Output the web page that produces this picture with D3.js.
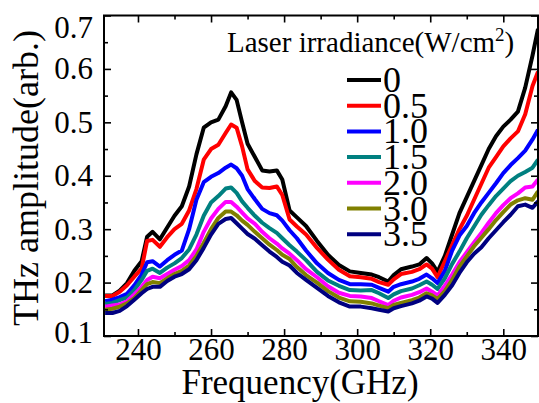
<!DOCTYPE html>
<html>
<head>
<meta charset="utf-8">
<script src="https://cdn.jsdelivr.net/npm/d3@7"></script>
<style>
  html, body { margin: 0; padding: 0; background: #fff; }
  svg, svg text { font-family: "Liberation Serif", "Times New Roman", serif; }
  svg { display: block; }
</style>
</head>
<body>
<svg id="chart" width="539" height="403"></svg>
<script>
// ---- data ----
const freq = [231,233,235,237,239,241,242.5,244,246,248, 250,252,254,256,258,260,262,264,265.5,267,
  268.5,270,272,274,276,278,279.5,281.5,283.5,286, 289,292,295,298,301,304,306,308.5,310,312,
  315,317,319,320.5,322,324,326,328,330,332, 334,336,338,340,342,344,346,348,349.5];

const irr0 = [0.176,0.176,0.185,0.199,0.222,0.24,0.286,0.295,0.281,0.303, 0.325,0.343,0.38,0.44,0.49,0.5,0.505,0.53,0.556,0.542,
  0.5,0.46,0.435,0.41,0.408,0.41,0.393,0.335,0.322,0.306, 0.278,0.252,0.233,0.221,0.218,0.215,0.21,0.202,0.214,0.225,
  0.23,0.234,0.246,0.236,0.22,0.25,0.29,0.33,0.36,0.39, 0.42,0.45,0.474,0.492,0.505,0.52,0.565,0.625,0.675];
const irr05 = [0.175,0.175,0.183,0.195,0.211,0.226,0.278,0.28,0.267,0.285, 0.3,0.31,0.335,0.375,0.43,0.45,0.458,0.48,0.496,0.49,
  0.455,0.412,0.39,0.378,0.377,0.38,0.364,0.318,0.305,0.29, 0.265,0.243,0.224,0.212,0.21,0.207,0.201,0.196,0.206,0.216,
  0.22,0.225,0.234,0.226,0.21,0.24,0.27,0.3,0.325,0.355, 0.385,0.415,0.435,0.455,0.47,0.483,0.515,0.568,0.595];
const irr10 = [0.165,0.168,0.173,0.179,0.195,0.215,0.238,0.24,0.23,0.242, 0.252,0.26,0.3,0.355,0.388,0.398,0.405,0.415,0.421,0.414,
  0.4,0.375,0.356,0.338,0.33,0.326,0.316,0.298,0.283,0.26, 0.236,0.218,0.205,0.197,0.197,0.196,0.19,0.183,0.192,0.197,
  0.202,0.207,0.215,0.208,0.199,0.222,0.26,0.288,0.306,0.33, 0.35,0.368,0.386,0.405,0.42,0.433,0.447,0.468,0.486];
const irr15 = [0.16,0.162,0.167,0.172,0.186,0.205,0.222,0.226,0.218,0.228, 0.236,0.246,0.262,0.29,0.325,0.35,0.362,0.376,0.378,0.368,
  0.352,0.34,0.325,0.312,0.302,0.293,0.283,0.27,0.258,0.242, 0.22,0.204,0.194,0.186,0.185,0.186,0.18,0.171,0.178,0.184,
  0.189,0.195,0.202,0.196,0.188,0.208,0.235,0.258,0.283,0.305, 0.327,0.345,0.362,0.376,0.39,0.4,0.407,0.415,0.43];
const irr20 = [0.155,0.157,0.159,0.165,0.178,0.192,0.205,0.211,0.208,0.216, 0.224,0.231,0.242,0.262,0.295,0.32,0.338,0.351,0.351,0.342,
  0.331,0.32,0.31,0.295,0.283,0.273,0.264,0.254,0.242,0.225, 0.21,0.193,0.181,0.175,0.174,0.171,0.165,0.158,0.166,0.172,
  0.177,0.182,0.189,0.183,0.176,0.194,0.215,0.238,0.257,0.275, 0.293,0.312,0.33,0.345,0.358,0.367,0.378,0.38,0.393];
const irr30 = [0.149,0.151,0.155,0.161,0.171,0.186,0.197,0.201,0.199,0.208, 0.216,0.222,0.232,0.25,0.274,0.3,0.321,0.333,0.333,0.326,
  0.316,0.308,0.295,0.283,0.271,0.261,0.252,0.244,0.229,0.214, 0.2,0.184,0.172,0.165,0.164,0.161,0.157,0.152,0.158,0.162,
  0.167,0.172,0.18,0.176,0.169,0.184,0.205,0.23,0.249,0.268, 0.284,0.3,0.317,0.332,0.346,0.354,0.358,0.355,0.371];
const irr35 = [0.143,0.143,0.147,0.156,0.168,0.18,0.188,0.192,0.192,0.203, 0.211,0.216,0.225,0.242,0.265,0.29,0.31,0.319,0.321,0.311,
  0.301,0.291,0.282,0.27,0.258,0.248,0.239,0.232,0.218,0.205, 0.19,0.175,0.163,0.155,0.155,0.152,0.149,0.146,0.152,0.156,
  0.161,0.166,0.174,0.17,0.162,0.177,0.195,0.218,0.238,0.254, 0.266,0.283,0.298,0.313,0.327,0.343,0.346,0.34,0.352];

const seriesLabels = ["0", "0.5", "1.0", "1.5", "2.0", "3.0", "3.5"];
const seriesValues = [irr0, irr05, irr10, irr15, irr20, irr30, irr35];
const seriesColors = ["#000000", "#ff0000", "#0000ff", "#008080", "#ff00ff", "#808000", "#000080"];

const xTicks = [240, 260, 280, 300, 320, 340];
const xMinor = [250, 270, 290, 310, 330];
const yTicks = [0.1, 0.2, 0.3, 0.4, 0.5, 0.6, 0.7];
const yMinor = [0.15, 0.25, 0.35, 0.45, 0.55, 0.65];

// ---- layout ----
const FONT = '"Liberation Serif", "Times New Roman", serif';
const L = 104, R = 538, T = 15.5, B = 336;
const svg = d3.select("#chart");
const x = d3.scaleLinear().domain([230.7, 349.5]).range([L, R]);
const y = d3.scaleLinear().domain([0.1, 0.7]).range([B, T]);

svg.append("defs").append("clipPath").attr("id", "clip")
  .append("rect").attr("x", L).attr("y", T).attr("width", R - L).attr("height", B - T);

// curves
const line = d3.line().x(d => x(d[0])).y(d => y(d[1]));
const gLines = svg.append("g").attr("clip-path", "url(#clip)");
seriesValues.forEach((vals, i) => {
  gLines.append("path")
    .datum(freq.map((f, k) => [f, vals[k]]))
    .attr("d", line)
    .attr("fill", "none")
    .attr("stroke", seriesColors[i])
    .attr("stroke-width", 4)
    .attr("stroke-linejoin", "round");
});

// axes (ticks inward)
function styleAxis(g) {
  g.attr("font-family", FONT);
  g.select(".domain").remove();
  g.selectAll(".tick line").attr("stroke", "#000").attr("stroke-width", 1.6);
}
const fmtY = d3.format(".1f");
const axB = svg.append("g").attr("transform", `translate(0,${B})`)
  .call(d3.axisBottom(x).tickValues(xTicks).tickSize(-7).tickPadding(2).tickFormat(d3.format("d")));
axB.call(styleAxis);
axB.selectAll("text").attr("font-size", 31).attr("fill", "#000");
svg.append("g").attr("transform", `translate(0,${B})`)
  .call(d3.axisBottom(x).tickValues(xMinor).tickSize(-4).tickFormat("")).call(styleAxis);
svg.append("g").attr("transform", `translate(0,${T})`)
  .call(d3.axisTop(x).tickValues(xTicks).tickSize(-7).tickFormat("")).call(styleAxis);
svg.append("g").attr("transform", `translate(0,${T})`)
  .call(d3.axisTop(x).tickValues(xMinor).tickSize(-4).tickFormat("")).call(styleAxis);

const axL = svg.append("g").attr("transform", `translate(${L},0)`)
  .call(d3.axisLeft(y).tickValues(yTicks).tickSize(-7).tickPadding(11).tickFormat(fmtY));
axL.call(styleAxis);
axL.selectAll("text").attr("font-size", 31).attr("fill", "#000");
axL.selectAll(".tick").filter(d => d === 0.7).select("text").attr("dy", "0.72em");
axL.selectAll(".tick").filter(d => d === 0.1).select("text").attr("dy", "0.2em");
svg.append("g").attr("transform", `translate(${L},0)`)
  .call(d3.axisLeft(y).tickValues(yMinor).tickSize(-4).tickFormat("")).call(styleAxis);
svg.append("g").attr("transform", `translate(${R},0)`)
  .call(d3.axisRight(y).tickValues(yTicks).tickSize(-7).tickFormat("")).call(styleAxis);
svg.append("g").attr("transform", `translate(${R},0)`)
  .call(d3.axisRight(y).tickValues(yMinor).tickSize(-4).tickFormat("")).call(styleAxis);

// frame
svg.append("rect").attr("x", L).attr("y", T).attr("width", R - L).attr("height", B - T)
  .attr("fill", "none").attr("stroke", "#000").attr("stroke-width", 2);

// axis titles
svg.append("text").attr("x", 300).attr("y", 394).attr("text-anchor", "middle")
  .attr("font-family", FONT).attr("font-size", 35).attr("fill", "#000").text("Frequency(GHz)");
svg.append("text").attr("transform", "translate(38,178) rotate(-90)").attr("text-anchor", "middle")
  .attr("font-family", FONT).attr("font-size", 36).attr("fill", "#000").text("THz amplitude(arb.)");

// legend
const lt = svg.append("text").attr("x", 227).attr("y", 52).attr("font-family", FONT)
  .attr("font-size", 29).attr("fill", "#000");
lt.append("tspan").text("Laser irradiance(W/cm");
lt.append("tspan").attr("font-size", 19).attr("dy", -11).text("2");
lt.append("tspan").attr("dy", 11).text(")");

seriesLabels.forEach((lab, i) => {
  const yy = 80 + i * 25.7;
  svg.append("line").attr("x1", 347).attr("x2", 381).attr("y1", yy).attr("y2", yy)
    .attr("stroke", seriesColors[i]).attr("stroke-width", 4);
  svg.append("text").attr("x", 383).attr("y", yy + 12).attr("font-family", FONT)
    .attr("font-size", 36).attr("fill", "#000").text(lab);
});
</script>
</body>
</html>
